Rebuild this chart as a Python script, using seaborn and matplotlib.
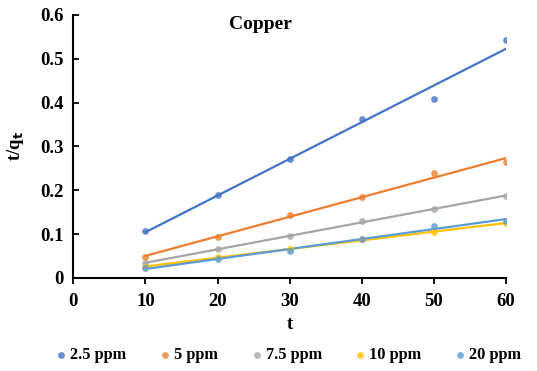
import matplotlib
matplotlib.use("Agg")
import matplotlib.pyplot as plt
import seaborn as sns
import numpy as np
import pandas as pd

sns.set_theme(style="white")
plt.rcParams['font.family'] = ['Liberation Serif', 'DejaVu Serif']
plt.rcParams['font.weight'] = 'bold'
plt.rcParams['text.color'] = 'black'
plt.rcParams['axes.labelcolor'] = 'black'

t = [10, 20, 30, 40, 50, 60]
series_names = ["2.5 ppm", "5 ppm", "7.5 ppm", "10 ppm", "20 ppm"]
v_2_5 = [0.107, 0.190, 0.271, 0.362, 0.408, 0.544]
v_5 = [0.047, 0.094, 0.143, 0.185, 0.239, 0.264]
v_7_5 = [0.034, 0.065, 0.096, 0.130, 0.157, 0.187]
v_10 = [0.026, 0.047, 0.065, 0.088, 0.104, 0.126]
v_20 = [0.022, 0.043, 0.062, 0.089, 0.118, 0.131]
colors = ["#4472C4", "#ED7D31", "#A5A5A5", "#FFC000", "#5B9BD5"]
x_ticks = [0, 10, 20, 30, 40, 50, 60]
y_ticks = [0, 0.1, 0.2, 0.3, 0.4, 0.5, 0.6]

values = [v_2_5, v_5, v_7_5, v_10, v_20]
df = pd.concat([pd.DataFrame({"t": t, "val": v, "series": n}) for n, v in zip(series_names, values)])

fig = plt.figure(figsize=(5.37, 3.71), dpi=100)
ax = fig.add_axes([0.1365, 0.2507, 0.806, 0.709])

for n, c in zip(series_names, colors):
    sub = df[df.series == n]
    sns.regplot(data=sub, x="t", y="val", ax=ax, ci=None, truncate=True, color=c,
                scatter_kws=dict(s=24, linewidths=0, zorder=3),
                line_kws=dict(lw=1.6, zorder=2), label=n)

ax.set_xlim(0, 60)
ax.set_ylim(0, 0.6)
ax.set_xticks(x_ticks)
ax.set_xticklabels([str(x) for x in x_ticks])
ax.set_yticks(y_ticks)
ax.set_yticklabels(["0", "0.1", "0.2", "0.3", "0.4", "0.5", "0.6"])
for s in ["top", "right"]:
    ax.spines[s].set_visible(False)
for s in ["left", "bottom"]:
    ax.spines[s].set_color("black")
    ax.spines[s].set_linewidth(1.5)
ax.tick_params(axis="x", direction="out", length=4, width=1.3, colors="black", labelsize=13.5, pad=7)
ax.tick_params(axis="y", direction="in", length=4, width=1.3, colors="black", labelsize=13.5, pad=7)
ax.tick_params(axis="y", left=True)
ax.tick_params(axis="x", bottom=True)
for lab in ax.get_xticklabels() + ax.get_yticklabels():
    lab.set_fontweight("bold")
ax.set_xlabel("t", fontsize=13.5, fontweight="bold", labelpad=4, color="black")
ax.set_ylabel(r"t/q$_\mathbf{t}$", fontsize=13.5, fontweight="bold", labelpad=10, color="black")
ax.text(0.432, 0.965, "Copper", transform=ax.transAxes, ha="center", va="center",
        fontsize=14, fontweight="bold", color="black")
ax.grid(False)

handles, labels = ax.get_legend_handles_labels()
scat_handles = [h for h in handles if not isinstance(h, matplotlib.lines.Line2D)]
scat_labels = [l for h, l in zip(handles, labels) if not isinstance(h, matplotlib.lines.Line2D)]
leg = fig.legend(scat_handles, scat_labels, loc="center", bbox_to_anchor=(0.535, 0.042), ncol=5,
                 frameon=False, handletextpad=0.05, columnspacing=1.85,
                 markerscale=1.0, handlelength=1.0, prop=dict(weight="bold", size=11.8),
                 labelcolor="black")

fig.savefig("out.png", dpi=100)
